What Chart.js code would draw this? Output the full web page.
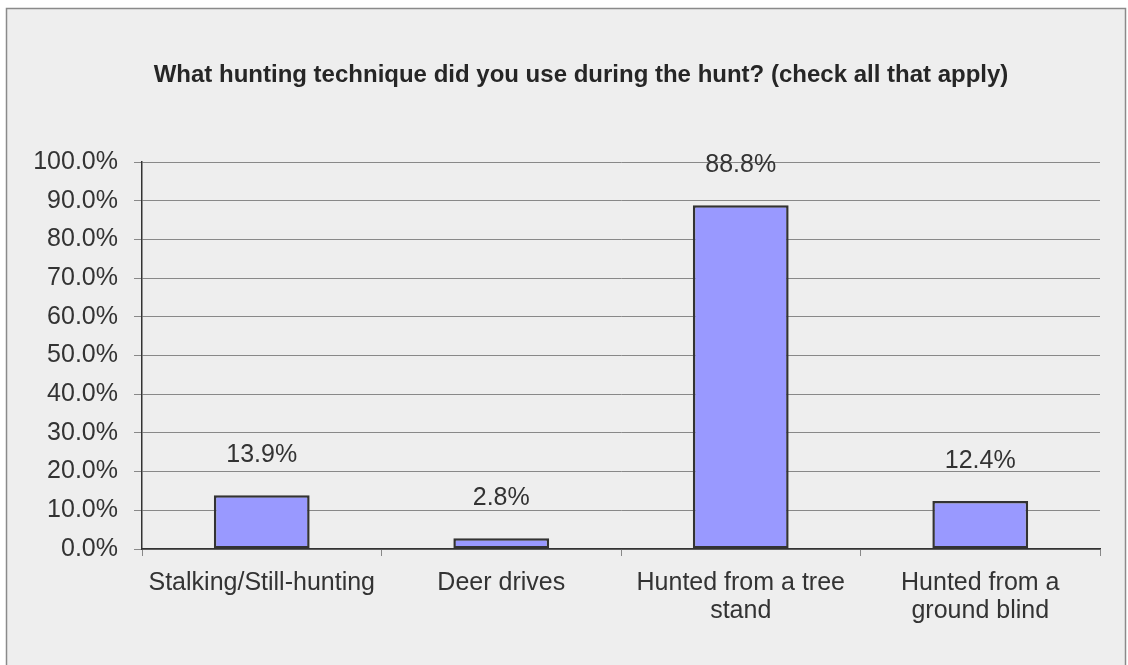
<!DOCTYPE html>
<html>
<head>
<meta charset="utf-8">
<script src="https://cdn.jsdelivr.net/npm/chart.js@4.4.0/dist/chart.umd.min.js"></script>
<style>
html,body{margin:0;padding:0;background:#fff;}
#wrap{width:1128px;height:665px;position:relative;}
</style>
</head>
<body>
<div id="wrap"><canvas id="c" width="1128" height="665"></canvas></div>
<script>
const titleText = "What hunting technique did you use during the hunt? (check all that apply)";
const categories = [
  ["Stalking/Still-hunting"],
  ["Deer drives"],
  ["Hunted from a tree", "stand"],
  ["Hunted from a", "ground blind"]
];
const values = [13.9, 2.8, 88.8, 12.4];
const valueLabels = ["13.9%", "2.8%", "88.8%", "12.4%"];
const yMin = 0, yMax = 100, yStep = 10;

const FONT = "'Liberation Sans', Arial, sans-serif";
const TXT = "#333333";

const bgPlugin = {
  id: 'bg',
  beforeDraw(chart) {
    const ctx = chart.ctx;
    ctx.save();
    ctx.fillStyle = '#ffffff';
    ctx.fillRect(0, 0, chart.width, chart.height);
    ctx.fillStyle = '#eeeeee';
    ctx.fillRect(6, 8, 1120, 700);
    ctx.strokeStyle = '#8a8a8a';
    ctx.lineWidth = 1.5;
    ctx.strokeRect(6.5, 8.5, 1119, 700);
    // chart title
    ctx.font = "bold 24px " + FONT;
    ctx.fillStyle = '#262626';
    ctx.textAlign = 'center';
    ctx.textBaseline = 'alphabetic';
    ctx.fillText(titleText, 581, 82);
    ctx.restore();
  }
};

const labelPlugin = {
  id: 'vlabels',
  afterDatasetsDraw(chart) {
    const ctx = chart.ctx;
    const meta = chart.getDatasetMeta(0);
    ctx.save();
    ctx.font = "25px " + FONT;
    ctx.fillStyle = TXT;
    ctx.textAlign = 'center';
    ctx.textBaseline = 'middle';
    meta.data.forEach((bar, i) => {
      ctx.fillText(valueLabels[i], bar.x, bar.y - 40);
    });
    ctx.restore();
  }
};

new Chart(document.getElementById('c'), {
  type: 'bar',
  data: {
    labels: categories,
    datasets: [{
      data: values,
      backgroundColor: '#9999ff',
      borderColor: '#333333',
      borderWidth: 2.5,
      borderSkipped: false,
      barPercentage: 0.4,
      categoryPercentage: 1.0
    }]
  },
  options: {
    responsive: false,
    animation: false,
    devicePixelRatio: 1,
    layout: { padding: { left: 0, right: 28, top: 162, bottom: 0 } },
    plugins: {
      legend: { display: false },
      tooltip: { enabled: false },
      title: { display: false }
    },
    scales: {
      x: {
        offset: true,
        grid: {
          offset: true,
          drawOnChartArea: false,
          drawTicks: true,
          tickLength: 7,
          color: '#888888'
        },
        border: { display: true, color: '#333333', width: 1.5 },
        ticks: {
          color: TXT,
          font: { family: FONT, size: 25, lineHeight: 1.12 },
          maxRotation: 0,
          autoSkip: false,
          padding: 13
        },
        afterFit(scale) { scale.height = 116; }
      },
      y: {
        min: yMin,
        max: yMax,
        grid: {
          color: '#888888',
          lineWidth: 1,
          tickLength: 8,
          drawTicks: true
        },
        border: { display: true, color: '#333333', width: 1.5 },
        ticks: {
          stepSize: yStep,
          color: TXT,
          font: { family: FONT, size: 25 },
          padding: 16,
          callback: v => v.toFixed(1) + '%'
        },
        afterFit(scale) { scale.width = 142; }
      }
    }
  },
  plugins: [bgPlugin, labelPlugin]
});
</script>
</body>
</html>
